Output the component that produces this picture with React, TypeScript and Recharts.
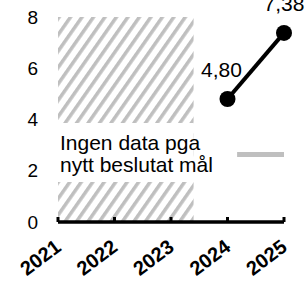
import { LabelList, Line, LineChart, ReferenceArea, ReferenceLine, XAxis, YAxis } from "recharts";

const years = [2021, 2022, 2023, 2024, 2025];
const values = [null, null, null, 4.8, 7.38];
const yTicks = [0, 2, 4, 6, 8];

// no-data block (hatched) and its note
const noDataFrom = 2021;
const noDataTo = 2023.4;
const noteLines = ["Ingen data pga", "nytt beslutat mål"];
const noteBand = [1.56, 3.86];
const noteKeyLine = [2024.17, 2025, 2.63];

const data = years.map((year, i) => ({ year, value: values[i] }));

const FONT = "Liberation Sans, Arial, sans-serif";

function YearTick(props: any) {
  const { x, y, payload } = props;
  const ty = y + 22;
  return (
    <g>
      <line x1={x} x2={x} y1={y - 5} y2={y} stroke="#000" strokeWidth={3} />
      <text
        x={x}
        y={ty}
        dy="0.355em"
        textAnchor="end"
        transform={`rotate(-37, ${x}, ${ty})`}
        fontFamily={FONT}
        fontSize={20}
        fontWeight="bold"
        fill="#000"
      >
        {payload.value}
      </text>
    </g>
  );
}

function ValueLabel(props: any) {
  const { x, y, value, index } = props;
  if (value == null) return null;
  const dx = index === 3 ? -6 : 0;
  return (
    <text x={x + dx} y={y - 22} textAnchor="middle" fontFamily={FONT} fontSize={21} fill="#000">
      {value.toFixed(2).replace(".", ",")}
    </text>
  );
}

function NoteLabel(props: any) {
  const { viewBox } = props;
  const x = viewBox.x + 2;
  return (
    <text fontFamily={FONT} fontSize={21} fill="#000">
      <tspan x={x} y={viewBox.y + 27}>
        {noteLines[0]}
      </tspan>
      <tspan x={x} y={viewBox.y + 49}>
        {noteLines[1]}
      </tspan>
    </text>
  );
}

export default function App() {
  return (
    <div style={{ position: "absolute", left: 0, top: 0 }}>
      <LineChart width={305} height={283} data={data} margin={{ top: 17, right: 21, left: 0, bottom: 0 }}>
        <defs>
          <pattern id="hatch" patternUnits="userSpaceOnUse" width={9.4} height={10} patternTransform="rotate(35)">
            <rect x={0} y={0} width={3.5} height={10} fill="#bfbfbf" />
          </pattern>
        </defs>
        <XAxis
          dataKey="year"
          type="number"
          domain={[2021, 2025]}
          ticks={years}
          height={61}
          tickSize={0}
          tickMargin={0}
          tickLine={false}
          axisLine={{ stroke: "#000", strokeWidth: 3.5 }}
          tick={<YearTick />}
          interval={0}
        />
        <YAxis
          domain={[0, 8]}
          ticks={yTicks}
          width={58}
          axisLine={false}
          tickLine={false}
          tickMargin={14}
          tick={{ fontFamily: FONT, fontSize: 19, fill: "#000" }}
        />
        <ReferenceArea
          x1={noDataFrom}
          x2={noDataTo}
          y1={0}
          y2={8}
          fill="url(#hatch)"
          fillOpacity={1}
          stroke="none"
        />
        <ReferenceArea
          x1={noDataFrom}
          x2={noDataTo}
          y1={noteBand[0]}
          y2={noteBand[1]}
          fill="#fff"
          fillOpacity={1}
          stroke="none"
          label={<NoteLabel />}
        />
        <ReferenceLine
          segment={[
            { x: noteKeyLine[0], y: noteKeyLine[2] },
            { x: noteKeyLine[1], y: noteKeyLine[2] },
          ]}
          stroke="#bfbfbf"
          strokeWidth={5}
        />
        <Line
          dataKey="value"
          stroke="#000"
          strokeWidth={4}
          dot={{ r: 8, fill: "#000", stroke: "none" }}
          isAnimationActive={false}
        >
          <LabelList dataKey="value" content={<ValueLabel />} />
        </Line>
      </LineChart>
    </div>
  );
}
